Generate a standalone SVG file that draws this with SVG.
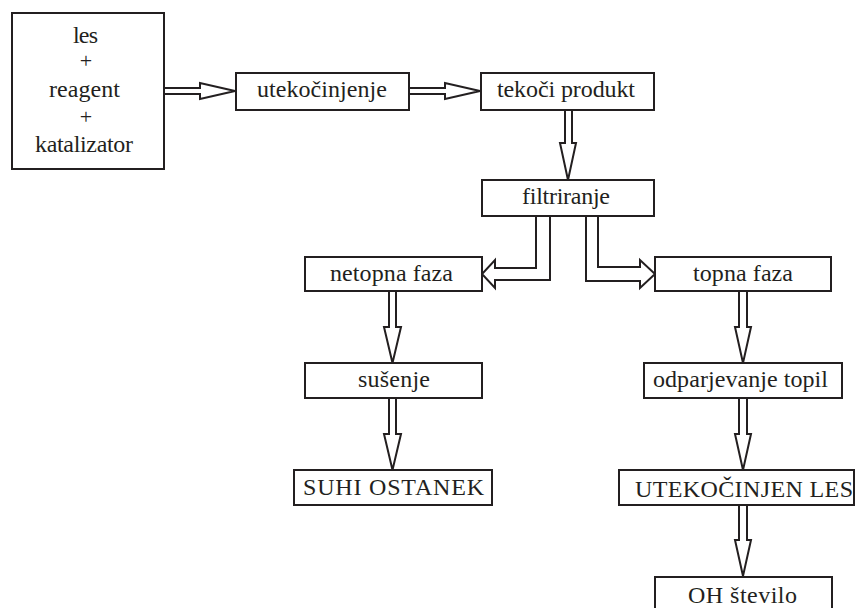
<svg xmlns="http://www.w3.org/2000/svg" width="856" height="608" viewBox="0 0 856 608">
<style>
.box{fill:#fff;stroke:#231f20;stroke-width:2}
.arr{fill:#fff;stroke:#231f20;stroke-width:2;stroke-linejoin:miter}
text{font-family:"Liberation Serif","Times New Roman",serif;font-size:24px;fill:#231f20;text-anchor:middle}
.plus{font-size:22px}
</style>
<rect width="856" height="608" fill="#fff"/>
<g id="connectors">
<polyline class="arr" points="164,88 200,88 200,83 235,91 200,99 200,94 164,94"/>
<polyline class="arr" points="409,88 445,88 445,83 480,91 445,99 445,94 409,94"/>
<polyline class="arr" points="565,110 565,143 560,143 568,180 576,143 572,143 572,110"/>
<polyline class="arr" points="536,216 536,268 495,268 495,260 482,274 495,288 495,280 550,280 550,216"/>
<polyline class="arr" points="586,216 586,281 640,281 640,288 655,274 640,260 640,267 598,267 598,216"/>
<polyline class="arr" points="389,291 389,327 384,327 392.5,363 401,327 396,327 396,291"/>
<polyline class="arr" points="389,398 389,434 384,434 392.5,470 401,434 396,434 396,398"/>
<polyline class="arr" points="739,291 739,327 735,327 743,363 751,327 747,327 747,291"/>
<polyline class="arr" points="739,398 739,434 735,434 743,470 751,434 747,434 747,398"/>
<polyline class="arr" points="739,505 739,540 735,540 743,576 751,540 747,540 747,505"/>
</g>
<g id="n-input">
<rect class="box" x="12" y="13" width="152" height="156"/>
<text x="85.5" y="43" textLength="25">les</text>
<text class="plus" x="86" y="68">+</text>
<text x="84.5" y="97" textLength="71">reagent</text>
<text class="plus" x="86" y="124">+</text>
<text x="84" y="152" textLength="98">katalizator</text>
</g>
<g id="n-utekocinjenje">
<rect class="box" x="236" y="73" width="173" height="37"/>
<text x="322" y="97" textLength="130">utekočinjenje</text>
</g>
<g id="n-tekoci-produkt">
<rect class="box" x="481" y="73" width="173" height="37"/>
<text x="566" y="97" textLength="138">tekoči produkt</text>
</g>
<g id="n-filtriranje">
<rect class="box" x="482" y="180" width="172" height="36"/>
<text x="566" y="204" textLength="88">filtriranje</text>
</g>
<g id="n-netopna">
<rect class="box" x="305" y="257" width="177" height="34"/>
<text x="391.5" y="281" textLength="123">netopna faza</text>
</g>
<g id="n-topna">
<rect class="box" x="655" y="257" width="176" height="34"/>
<text x="743" y="281" textLength="100">topna faza</text>
</g>
<g id="n-susenje">
<rect class="box" x="305" y="363" width="177" height="35"/>
<text x="394" y="387" textLength="72">sušenje</text>
</g>
<g id="n-odparjevanje">
<rect class="box" x="644" y="363" width="198" height="35"/>
<text x="740.5" y="387" textLength="175">odparjevanje topil</text>
</g>
<g id="n-suhi-ostanek">
<rect class="box" x="294" y="470" width="198" height="35"/>
<text x="393.5" y="495" textLength="181">SUHI OSTANEK</text>
</g>
<g id="n-utekocinjen-les">
<rect class="box" x="619" y="470" width="235" height="35"/>
<text x="744" y="497" textLength="218">UTEKOČINJEN LES</text>
</g>
<g id="n-oh-stevilo">
<rect class="box" x="655" y="577" width="177" height="40"/>
<text x="742.5" y="603" textLength="109">OH število</text>
</g>
</svg>
